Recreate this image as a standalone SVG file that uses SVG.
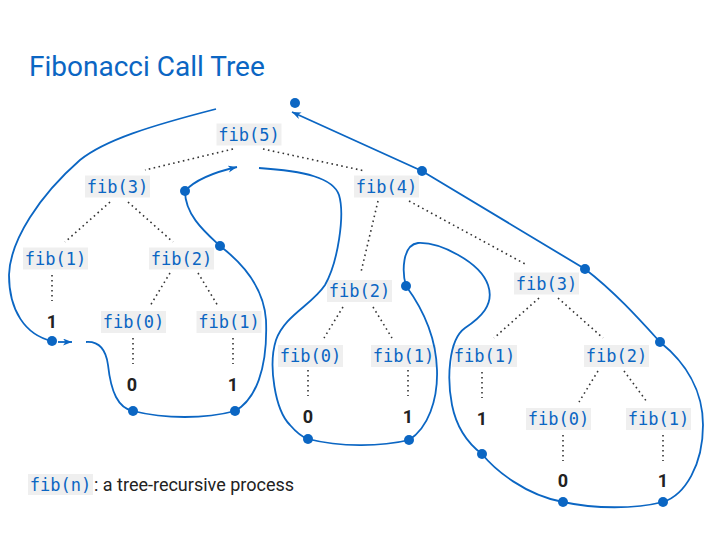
<svg xmlns="http://www.w3.org/2000/svg" width="716" height="535" viewBox="0 0 716 535">
<style>
.box{fill:#efefef}
.code{font-family:"DejaVu Sans Mono","Liberation Mono",monospace;font-size:17px;fill:#0b66c3;text-anchor:middle}
.num{font-family:Roboto,"Liberation Sans",sans-serif;font-size:18px;font-weight:bold;fill:#222;text-anchor:middle}
.edge{stroke:#333;stroke-width:1.6;stroke-dasharray:1.6 3.4;fill:none}
.flow{stroke:#0b66c3;stroke-width:1.8;fill:none}
.dot{fill:#0b66c3}
.title{font-family:Roboto,"Liberation Sans",sans-serif;font-size:28px;fill:#0b66c3}
.legend{font-family:Roboto,"Liberation Sans",sans-serif;font-size:18px;fill:#222}
</style>
<defs>
<marker id="arr" markerUnits="userSpaceOnUse" markerWidth="10" markerHeight="8" refX="9" refY="3.5" orient="auto">
<path d="M0,0 L9,3.5 L0,7 L2.5,3.5 z" fill="#0b66c3"/>
</marker>
</defs>
<rect width="716" height="535" fill="#fff"/>
<text class="title" x="29" y="76">Fibonacci Call Tree</text>

<g id="edges">
<line class="edge" x1="233" y1="149" x2="145" y2="170"/>
<line class="edge" x1="263" y1="149" x2="365" y2="171"/>
<line class="edge" x1="110" y1="202" x2="65" y2="242"/>
<line class="edge" x1="128" y1="202" x2="173" y2="242"/>
<line class="edge" x1="52" y1="275" x2="52" y2="301"/>
<line class="edge" x1="170" y1="273" x2="150" y2="306"/>
<line class="edge" x1="198" y1="273" x2="218" y2="306"/>
<line class="edge" x1="133" y1="338" x2="133" y2="364"/>
<line class="edge" x1="233" y1="338" x2="233" y2="364"/>
<line class="edge" x1="378" y1="201" x2="361" y2="272"/>
<line class="edge" x1="409" y1="201" x2="527" y2="265"/>
<line class="edge" x1="343" y1="307" x2="324" y2="338"/>
<line class="edge" x1="373" y1="307" x2="392" y2="338"/>
<line class="edge" x1="308" y1="370" x2="308" y2="396"/>
<line class="edge" x1="408" y1="370" x2="408" y2="396"/>
<line class="edge" x1="539" y1="298" x2="494" y2="338"/>
<line class="edge" x1="558" y1="298" x2="603" y2="338"/>
<line class="edge" x1="482" y1="372" x2="482" y2="398"/>
<line class="edge" x1="598" y1="371" x2="579" y2="402"/>
<line class="edge" x1="624" y1="371" x2="647" y2="402"/>
<line class="edge" x1="563" y1="435" x2="563" y2="461"/>
<line class="edge" x1="663" y1="435" x2="663" y2="461"/>
</g>

<g id="n-fib5"><rect class="box" x="216.5" y="123.5" width="65" height="22"/><text class="code" x="249" y="140.5">fib(5)</text></g>
<g id="n-fib3a"><rect class="box" x="85" y="175.5" width="65" height="22"/><text class="code" x="117.5" y="192.5">fib(3)</text></g>
<g id="n-fib4"><rect class="box" x="354" y="175.5" width="65" height="22"/><text class="code" x="386.5" y="192.5">fib(4)</text></g>
<g id="n-fib1a"><rect class="box" x="23" y="247.5" width="65" height="22"/><text class="code" x="55.5" y="264.5">fib(1)</text></g>
<g id="n-fib2a"><rect class="box" x="149" y="247.5" width="65" height="22"/><text class="code" x="181.5" y="264.5">fib(2)</text></g>
<g id="n-fib0a"><rect class="box" x="101" y="311" width="65" height="22"/><text class="code" x="133.5" y="328">fib(0)</text></g>
<g id="n-fib1b"><rect class="box" x="196.5" y="311" width="65" height="22"/><text class="code" x="229" y="328">fib(1)</text></g>
<g id="n-fib2b"><rect class="box" x="327" y="280" width="65" height="22"/><text class="code" x="359.5" y="297">fib(2)</text></g>
<g id="n-fib3b"><rect class="box" x="514" y="272.5" width="65" height="22"/><text class="code" x="546.5" y="289.5">fib(3)</text></g>
<g id="n-fib0b"><rect class="box" x="278" y="345" width="65" height="22"/><text class="code" x="310.5" y="362">fib(0)</text></g>
<g id="n-fib1c"><rect class="box" x="371" y="345" width="65" height="22"/><text class="code" x="403.5" y="362">fib(1)</text></g>
<g id="n-fib1d"><rect class="box" x="452" y="345" width="65" height="22"/><text class="code" x="484.5" y="362">fib(1)</text></g>
<g id="n-fib2c"><rect class="box" x="584" y="345" width="65" height="22"/><text class="code" x="616.5" y="362">fib(2)</text></g>
<g id="n-fib0c"><rect class="box" x="526" y="408" width="65" height="22"/><text class="code" x="558.5" y="425">fib(0)</text></g>
<g id="n-fib1e"><rect class="box" x="626" y="408" width="65" height="22"/><text class="code" x="658.5" y="425">fib(1)</text></g>

<g id="leaves">
<text class="num" x="52" y="328">1</text>
<text class="num" x="132" y="391">0</text>
<text class="num" x="233" y="391">1</text>
<text class="num" x="308" y="423">0</text>
<text class="num" x="408" y="423">1</text>
<text class="num" x="482" y="425">1</text>
<text class="num" x="563" y="487">0</text>
<text class="num" x="663" y="487">1</text>
</g>

<g id="connectors">
<path class="flow" d="M216,109 C150,126 105,140 80,160 C40,195 10,240 9,275 C9,310 25,335 52,341"/>
<path class="flow" d="M58,342 L72,342" marker-end="url(#arr)"/>
<path class="flow" d="M86,342 C100,341 106,350 108,365 C111,392 118,408 133,411 C165,419 205,419 235,411 C255,400 268,370 266,320 C264,290 245,265 220,246 C205,232 185,215 185,191"/>
<path class="flow" d="M185,191 C195,180 215,172 237,167" marker-end="url(#arr)"/>
<path class="flow" d="M259,168 C305,171 333,178 339,195 C345,215 338,262 325,285 C312,305 285,315 276,340 C268,365 275,410 290,425 C296,432 302,437 308,439 C340,447 380,447 409,440 C428,428 438,400 437,370 C436,335 420,305 406,286 C402,272 402,245 418,243 C440,242 480,262 488,285 C495,305 480,318 465,328 C448,340 447,380 452,405 C457,430 470,445 482,454 C495,470 525,495 563,502 C595,509 635,509 663,502 C685,495 703,465 703,425 C703,390 685,362 660,342 C640,320 615,292 585,269 L422,171 L292,112" marker-end="url(#arr)"/>
</g>

<g id="dots">
<circle class="dot" cx="295" cy="103" r="5"/>
<circle class="dot" cx="185" cy="191" r="5"/>
<circle class="dot" cx="220" cy="246" r="5"/>
<circle class="dot" cx="52" cy="341" r="5"/>
<circle class="dot" cx="133" cy="411" r="5"/>
<circle class="dot" cx="235" cy="411" r="5"/>
<circle class="dot" cx="422" cy="171" r="5"/>
<circle class="dot" cx="585" cy="269" r="5"/>
<circle class="dot" cx="406" cy="286" r="5"/>
<circle class="dot" cx="660" cy="342" r="5"/>
<circle class="dot" cx="308" cy="439" r="5"/>
<circle class="dot" cx="409" cy="440" r="5"/>
<circle class="dot" cx="482" cy="454" r="5"/>
<circle class="dot" cx="563" cy="502" r="5"/>
<circle class="dot" cx="663" cy="502" r="5"/>
</g>

<g id="legend">
<rect class="box" x="28" y="474" width="65" height="21"/>
<text class="code" x="60.5" y="490.5">fib(n)</text>
<text class="legend" x="94" y="491">: a tree-recursive process</text>
</g>
</svg>
